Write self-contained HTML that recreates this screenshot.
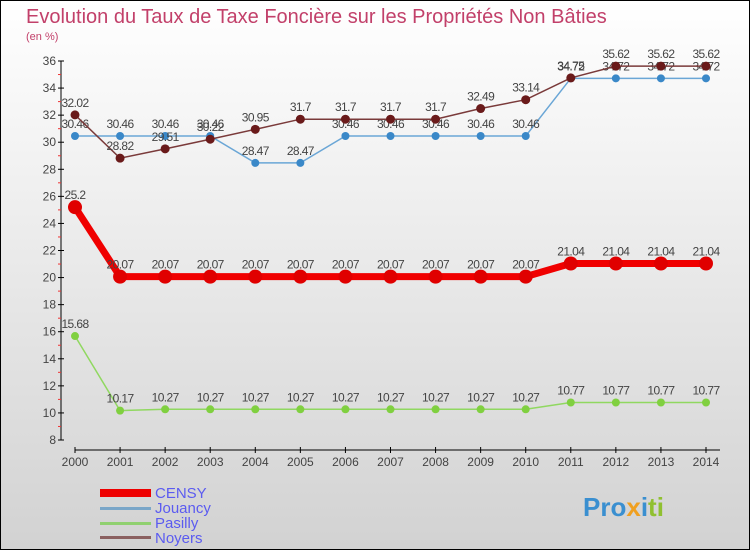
<!DOCTYPE html>
<html><head><meta charset="utf-8"><style>
body{margin:0}
svg{display:block;font-family:"Liberation Sans",sans-serif}
</style></head><body>
<svg id="c" width="750" height="550" xmlns="http://www.w3.org/2000/svg">
<defs><linearGradient id="bg" x1="0" y1="0" x2="0" y2="1"><stop offset="0" stop-color="#ffffff"/><stop offset="1" stop-color="#d2d2d2"/></linearGradient></defs>
<rect x="0.5" y="0.5" width="749" height="549" fill="url(#bg)" stroke="#000"/>
<text x="26" y="23" font-size="20" fill="#c2406a">Evolution du Taux de Taxe Foncière sur les Propriétés Non Bâties</text>
<text x="26" y="40" font-size="11" fill="#c2406a">(en %)</text>
<g id="axes"></g>
<g id="series"></g>
<g>
<rect x="100" y="489" width="51" height="8" fill="#e00"/>
<text x="155" y="498" font-size="15" fill="#5b5bf0">CENSY</text>
<rect x="100" y="507" width="51" height="3" fill="#7aa6c8"/>
<text x="155" y="513" font-size="15" fill="#5b5bf0">Jouancy</text>
<rect x="100" y="522" width="51" height="3" fill="#90d070"/>
<text x="155" y="528" font-size="15" fill="#5b5bf0">Pasilly</text>
<rect x="100" y="536" width="51" height="3" fill="#8a6060"/>
<text x="155" y="543" font-size="15" fill="#5b5bf0">Noyers</text>
</g>
<text x="583" y="516" font-size="26" font-weight="bold" fill="#3a8fd0">Pro<tspan fill="#f0a020">x</tspan>i<tspan fill="#90c030">ti</tspan></text>
</svg>
<script>
const years=[2000,2001,2002,2003,2004,2005,2006,2007,2008,2009,2010,2011,2012,2013,2014];
const yTicks=[8,10,12,14,16,18,20,22,24,26,28,30,32,34,36];
const censy=[25.2,20.07,20.07,20.07,20.07,20.07,20.07,20.07,20.07,20.07,20.07,21.04,21.04,21.04,21.04];
const jouancy=[30.46,30.46,30.46,30.46,28.47,28.47,30.46,30.46,30.46,30.46,30.46,34.72,34.72,34.72,34.72];
const pasilly=[15.68,10.17,10.27,10.27,10.27,10.27,10.27,10.27,10.27,10.27,10.27,10.77,10.77,10.77,10.77];
const noyers=[32.02,28.82,29.51,30.22,30.95,31.7,31.7,31.7,31.7,32.49,33.14,34.75,35.62,35.62,35.62];
const NS="http://www.w3.org/2000/svg";
const X=i=>75+i*(706-75)/14;
const Y=v=>440-(v-8)*(440-61)/28;
function mk(p,t,a){const e=document.createElementNS(NS,t);for(const k in a)e.setAttribute(k,a[k]);p.appendChild(e);return e;}
const ax=document.getElementById('axes');
let e=mk(ax,'line',{x1:61,y1:61,x2:61,y2:440,stroke:'#000'});


for(const t of yTicks){
 mk(ax,'line',{x1:58,y1:Y(t),x2:64,y2:Y(t),stroke:'#000'});
 if(t<36)mk(ax,'line',{x1:58,y1:Y(t+1),x2:61,y2:Y(t+1),stroke:'#e33'});
 e=mk(ax,'text',{x:56,y:Y(t)+4,'font-size':12,fill:'#444','text-anchor':'end'});e.textContent=t;
 
 
}
e=mk(ax,'line',{x1:75,y1:450,x2:720,y2:450,stroke:'#000'});


years.forEach((y,i)=>{
 mk(ax,'line',{x1:X(i),y1:447,x2:X(i),y2:453,stroke:'#000'});
 e=mk(ax,'text',{x:X(i),y:466,'font-size':12,fill:'#444','text-anchor':'middle'});e.textContent=y;
 
 
});
const sg=document.getElementById('series');
function series(name,data,col,dot,w,r){
 const g=mk(sg,'g',{});
 
 
 mk(g,'polyline',{points:data.map((v,i)=>X(i)+','+Y(v)).join(' '),fill:'none',stroke:col,'stroke-width':w});
 data.forEach((v,i)=>{
  const c=mk(g,'circle',{cx:X(i),cy:Y(v),r:r,fill:dot});
  
  
  const t=mk(g,'text',{x:X(i),y:Y(v)-8,'font-size':12,fill:'#444','text-anchor':'middle','letter-spacing':'-0.6'});
  t.textContent=v;
  
  
 });
}
series('jouancy',jouancy,'#6aa6d6','#3a88c8',1.5,4);
series('pasilly',pasilly,'#90d860','#80d040',1.5,4);
series('noyers',noyers,'#7a3a3a','#6a1a1a',1.5,4.5);
series('censy',censy,'#f00000','#e00000',7,7);
</script>
</body></html>
